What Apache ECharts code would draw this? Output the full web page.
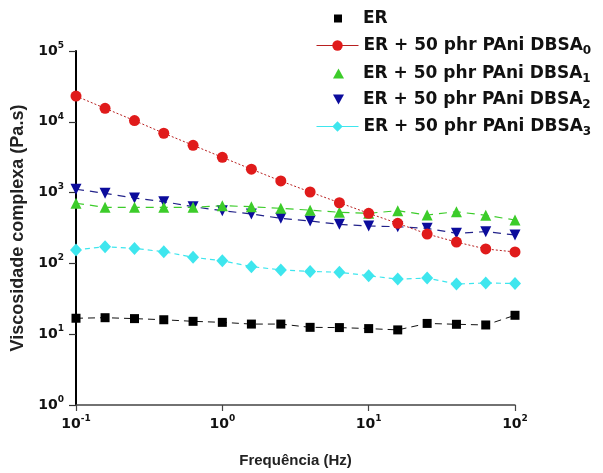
<!DOCTYPE html>
<html>
<head>
<meta charset="utf-8">
<script src="https://cdn.jsdelivr.net/npm/echarts@6/dist/echarts.min.js"></script>
<style>
html,body{margin:0;padding:0;background:#fff;}
#chart{width:603px;height:473px;}
</style>
</head>
<body>
<div id="chart"></div>
<script>
var freq = [0.1, 0.158, 0.251, 0.398, 0.631, 1, 1.58, 2.51, 3.98, 6.31, 10, 15.8, 25.1, 39.8, 63.1, 100];
var er    = [16.8, 17.1, 16.6, 16.0, 15.2, 14.7, 13.9, 13.9, 12.5, 12.4, 12.0, 11.5, 14.2, 13.8, 13.5, 18.5];
var dbsa0 = [23100, 15500, 10400, 6890, 4660, 3150, 2140, 1460, 1020, 719, 510, 368, 260, 200, 160, 145];
var dbsa1 = [707, 620, 620, 620, 620, 653, 632, 600, 565, 527, 510, 555, 483, 537, 478, 410];
var dbsa2 = [1115, 977, 840, 745, 632, 555, 499, 433, 397, 356, 338, 330, 313, 266, 281, 252];
var dbsa3 = [155, 172, 163, 146, 122, 109, 90, 81, 77, 75, 67, 60, 62, 51, 53, 52];
var seriesNames = ['ER', 'ER + 50 phr PAni DBSA0', 'ER + 50 phr PAni DBSA1', 'ER + 50 phr PAni DBSA2', 'ER + 50 phr PAni DBSA3'];

function pairs(ys) { return freq.map(function (x, i) { return [x, ys[i]]; }); }
var FONT = 'Liberation Sans, Arial, sans-serif';
var WFONT = 'DejaVu Sans, sans-serif';
function expLabel(v) {
  var e = Math.round(Math.log10(v));
  return '{b|10}{s|' + e + '}';
}
var supRich = {
  b: {fontFamily: WFONT, fontWeight: 'bold', fontSize: 14, color: '#111', lineHeight: 20},
  s: {fontFamily: WFONT, fontWeight: 'bold', fontSize: 9, color: '#111', lineHeight: 9, verticalAlign: 'top'}
};
var legRich = {
  t: {fontFamily: WFONT, fontWeight: 'bold', fontSize: 17, color: '#111', lineHeight: 22},
  u: {fontFamily: WFONT, fontWeight: 'bold', fontSize: 12, color: '#111', lineHeight: 12, verticalAlign: 'bottom'}
};
function legFmt(name) {
  var m = name.match(/^(.*DBSA)(\d)$/);
  if (m) return '{t|' + m[1] + '}{u|' + m[2] + '}';
  return '{t|' + name + '}';
}
var rowY = [10, 37, 65, 91, 118];
function mkLegend(i, icon, w, h, left, padL) {
  var d = {name: seriesNames[i]};
  if (icon) d.icon = icon;
  return {
    data: [d], left: left, top: rowY[i], orient: 'vertical', padding: 0,
    itemWidth: w, itemHeight: h, selectedMode: false,
    formatter: legFmt,
    lineStyle: {type: 'solid', width: 1},
    textStyle: {rich: legRich, padding: [0, 0, 0, padL]}
  };
}

var chart = echarts.init(document.getElementById('chart'), null, {renderer: 'canvas'});
chart.setOption({
  animation: false,
  backgroundColor: '#fff',
  grid: {left: 76, right: 88, top: 51, bottom: 67},
  legend: [
    mkLegend(0, 'rect', 8, 8, 334, 16),
    mkLegend(1, null, 42, 13, 316, 0),
    mkLegend(2, 'triangle', 11, 10, 333, 14),
    mkLegend(3, 'path://M0,0L10,0L5,9Z', 11, 10, 333, 14),
    mkLegend(4, null, 42, 13, 316, 0)
  ],
  xAxis: {
    type: 'log', logBase: 10, min: 0.1, max: 100,
    name: 'Frequência (Hz)', nameLocation: 'middle', nameGap: 48,
    nameTextStyle: {fontFamily: FONT, fontWeight: 'bold', fontSize: 15, color: '#222'},
    axisLine: {show: true, lineStyle: {color: '#444', width: 1.5}},
    axisTick: {show: true, inside: false, length: 6, lineStyle: {color: '#444', width: 1.2}},
    minorTick: {show: false},
    splitLine: {show: false},
    axisLabel: {margin: 9, formatter: expLabel, rich: supRich}
  },
  yAxis: {
    type: 'log', logBase: 10, min: 1, max: 100000,
    name: 'Viscosidade complexa (Pa.s)', nameLocation: 'middle', nameGap: 45,
    nameTextStyle: {fontFamily: FONT, fontWeight: 'bold', fontSize: 18, color: '#222'},
    axisLine: {show: true, lineStyle: {color: '#000', width: 2}},
    axisTick: {show: true, inside: false, length: 7, lineStyle: {color: '#333', width: 1.2}},
    splitLine: {show: false},
    axisLabel: {margin: 12, formatter: expLabel, rich: supRich}
  },
  series: [
    {name: seriesNames[0], type: 'line', data: pairs(er), symbol: 'rect', symbolSize: 9,
     itemStyle: {color: '#000'}, lineStyle: {color: '#111', width: 1, type: [7, 5]}, z: 2},
    {name: seriesNames[1], type: 'line', data: pairs(dbsa0), symbol: 'circle', symbolSize: 11,
     itemStyle: {color: '#e01b1b'}, lineStyle: {color: '#b82020', width: 1, type: [2, 2]}, z: 6},
    {name: seriesNames[2], type: 'line', data: pairs(dbsa1), symbol: 'triangle', symbolSize: 11,
     itemStyle: {color: '#3ccc2a'}, lineStyle: {color: '#3ccc2a', width: 1.2, type: [8, 6]}, z: 5},
    {name: seriesNames[3], type: 'line', data: pairs(dbsa2), symbol: 'path://M0,0L10,0L5,9Z', symbolSize: 11,
     itemStyle: {color: '#0c0c9c'}, lineStyle: {color: '#22228a', width: 1.2, type: [8, 6]}, z: 4},
    {name: seriesNames[4], type: 'line', data: pairs(dbsa3), symbol: 'diamond', symbolSize: [12, 13],
     itemStyle: {color: '#3ee6ee'}, lineStyle: {color: '#3ee6ee', width: 1.2, type: [5, 4]}, z: 3}
  ]
});
</script>
</body>
</html>
